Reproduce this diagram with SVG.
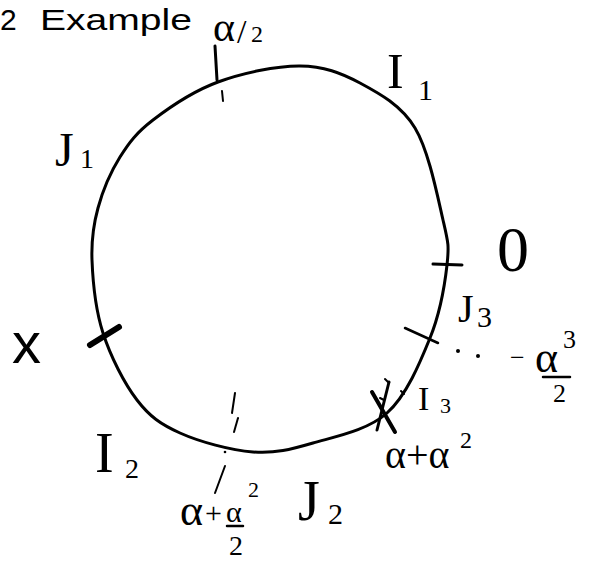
<svg xmlns="http://www.w3.org/2000/svg" width="589" height="563" viewBox="0 0 589 563">
<style>
.t{font-family:"Liberation Serif",serif;fill:#000}
.s{font-family:"Liberation Sans",sans-serif;fill:#000}
.ln{stroke:#000;fill:none;stroke-linecap:round}
</style>
<rect width="589" height="563" fill="#fff"/>
<g id="title"><text class="s" x="0" y="30" font-size="30">2</text><text class="s" x="40" y="30" font-size="30" textLength="152" lengthAdjust="spacingAndGlyphs">Example</text></g>
<g id="circle"><path class="ln" stroke-width="3" d="M300,66 C323.7,66.2 340.8,72.7 360,83 C379.2,93.3 401.2,105.2 415,128 C428.8,150.8 437.7,197.2 443,220 C448.3,242.8 449.2,245.3 447,265 C444.8,284.7 440,313.3 430,338 C420,362.7 406.5,395.5 387,413 C367.5,430.5 335.3,436.5 313,443 C290.7,449.5 275.2,453.7 253,452 C230.8,450.3 199.3,441.7 180,433 C160.7,424.3 149.8,416.7 137,400 C124.2,383.3 110.5,356.3 103,333 C95.5,309.7 92.8,280.8 92,260 C91.2,239.2 93.3,225.2 98,208 C102.7,190.8 110.8,171.7 120,157 C129.2,142.3 136.7,132.5 153,120 C169.3,107.5 193.5,91 218,82 C242.5,73 276.3,65.8 300,66 Z"/></g>
<g id="ticks">
<line class="ln" stroke-width="3" x1="215" y1="46" x2="217" y2="80"/>
<line class="ln" stroke-width="2" x1="222" y1="91" x2="223" y2="101"/>
<line class="ln" stroke-width="3" x1="433" y1="264" x2="462" y2="265"/>
<line class="ln" stroke-width="2.5" x1="405" y1="328" x2="438" y2="343"/>
<line class="ln" stroke-width="6" x1="90" y1="345" x2="119" y2="327"/>
<line class="ln" stroke-width="4" x1="372" y1="392" x2="395" y2="432"/>
<line class="ln" stroke-width="3" x1="389" y1="382" x2="377" y2="430"/>
<line class="ln" stroke-width="2" x1="385" y1="379" x2="389" y2="383"/>
<line class="ln" stroke-width="2" x1="401" y1="391" x2="404" y2="394"/>
<line class="ln" stroke-width="2" x1="380" y1="398" x2="384" y2="400"/>
<line class="ln" stroke-width="2" x1="235" y1="393" x2="232" y2="413"/>
<line class="ln" stroke-width="2" x1="238" y1="418" x2="234" y2="432"/>
<circle cx="225" cy="452" r="1.3" fill="#000"/>
<line class="ln" stroke-width="2" x1="225" y1="466" x2="215" y2="493"/>
<circle cx="458" cy="351" r="2" fill="#000"/>
<circle cx="478" cy="356" r="2" fill="#000"/>
</g>
<g id="label-alpha-half"><text class="t" x="213" y="41" font-size="42">α</text><text class="t" x="237" y="43" font-size="34">/</text><text class="t" x="251" y="42" font-size="24">2</text></g>
<g id="label-I1"><text class="t" x="387" y="88" font-size="50">I</text><text class="t" x="418" y="100" font-size="30">1</text></g>
<g id="label-J1"><text class="t" x="55" y="166" font-size="48">J</text><text class="t" x="80" y="168" font-size="28">1</text></g>
<g id="label-0"><text class="t" x="497" y="271" font-size="64">0</text></g>
<g id="label-J3"><text class="t" x="458" y="322" font-size="40">J</text><text class="t" x="477" y="327" font-size="30">3</text></g>
<g id="label-neg-alpha3-half"><text class="t" x="510" y="366" font-size="26">−</text><text class="t" x="535" y="372" font-size="44">α</text><text class="t" x="563" y="348" font-size="26">3</text><line class="ln" stroke-width="2.5" x1="543" y1="377" x2="570" y2="377"/><text class="t" x="553" y="402" font-size="26">2</text></g>
<g id="label-I3"><text class="t" x="418" y="410" font-size="34">I</text><text class="t" x="440" y="413" font-size="22">3</text></g>
<g id="label-alpha-alpha2"><text class="t" x="385" y="468" font-size="40">α+α</text><text class="t" x="460" y="448" font-size="24">2</text></g>
<g id="label-x"><text class="s" x="12" y="363" font-size="58">x</text></g>
<g id="label-I2"><text class="t" x="95" y="472" font-size="56">I</text><text class="t" x="125" y="478" font-size="28">2</text></g>
<g id="label-alpha-alpha2-half"><text class="t" x="180" y="525" font-size="44">α</text><text class="t" x="205" y="523" font-size="30">+</text><text class="t" x="226" y="522" font-size="30">α</text><line class="ln" stroke-width="2.5" x1="227" y1="526" x2="243" y2="526"/><text class="t" x="229" y="555" font-size="28">2</text><text class="t" x="248" y="497" font-size="22">2</text></g>
<g id="label-J2"><text class="t" x="298" y="520" font-size="56">J</text><text class="t" x="328" y="524" font-size="30">2</text></g>
</svg>
